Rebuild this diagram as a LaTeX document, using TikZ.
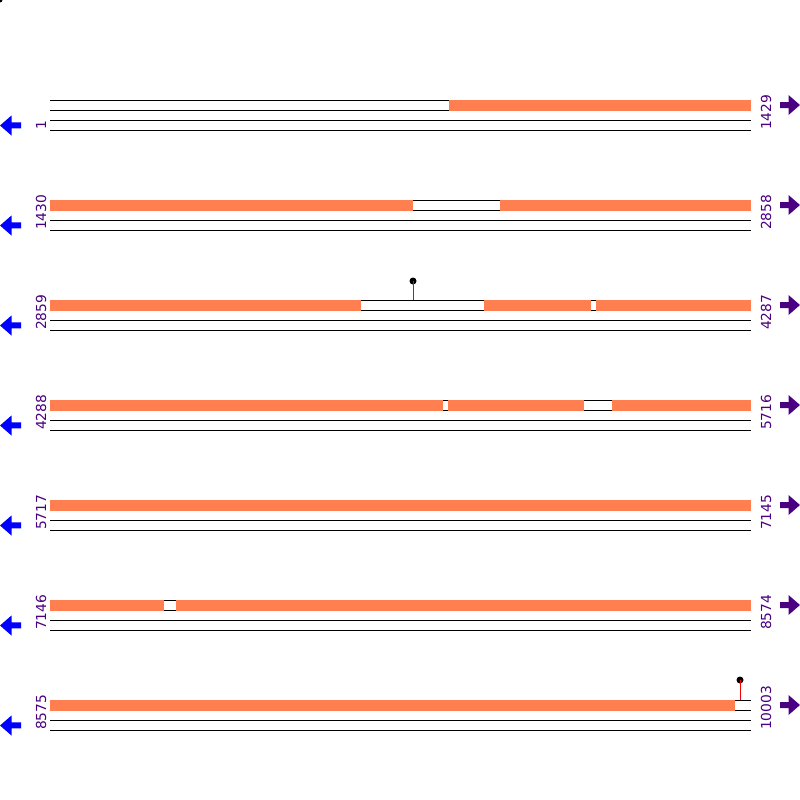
\documentclass[tikz,border=0pt]{standalone}
\usepackage{fontspec}
\setmainfont{DejaVu Sans}
\definecolor{seg}{HTML}{FF7F50}
\definecolor{lbl}{HTML}{4B0082}
\begin{document}
\begin{tikzpicture}[x=1pt,y=-1pt,
  thinline/.style={black,line width=1pt},
  orangeseg/.style={fill=seg,draw=none},
  poslabel/.style={rotate=90,anchor=base west,inner sep=0pt,text=lbl,font=\fontsize{13.8}{14}\selectfont},
  stem/.style={red,line width=1pt},
  knob/.style={circle,fill=black,inner sep=0pt,minimum size=7pt},
  leftarrow/.style={fill=blue,draw=none},
  rightarrow/.style={fill=lbl,draw=none}]
\useasboundingbox (0,0) rectangle (800,800);
\fill[black] (0,0) circle (2.5);
% rows
\foreach \k/\l/\r in {0/1/1429,1/1430/2858,2/2859/4287,3/4288/5716,4/5717/7145,5/7146/8574,6/8575/10003}{
  \pgfmathsetmacro{\yy}{100+100*\k}
  \begin{scope}[yshift=-\yy pt]
    \draw[thinline] (50,0) -- (751,0);
    \draw[thinline] (50,10) -- (751,10);
    \draw[thinline] (50,20) -- (751,20);
    \draw[thinline] (50,30) -- (751,30);
    \node[poslabel] (ll\k) at (46,30) {\l};
    \node[poslabel] (rl\k) at (771,30) {\r};
    \fill[leftarrow] (0,25.5) -- (11.5,15.5) -- (11.5,22.3) -- (21,22.3) -- (21,28.3) -- (11.5,28.3) -- (11.5,35.5) -- cycle;
    \fill[rightarrow] (800,5) -- (788.5,-5) -- (788.5,2) -- (780,2) -- (780,8) -- (788.5,8) -- (788.5,15) -- cycle;
  \end{scope}
}
% orange segments
\foreach \a/\b/\y in {449/751/100,
  50/413/200, 500/751/200,
  50/361/300, 484/591/300, 596/751/300,
  50/443/400, 448/584/400, 612/751/400,
  50/751/500,
  50/164/600, 176/751/600,
  50/735/700}{
  \fill[orangeseg] (\a,\y-0.5) rectangle (\b,\y+10.5);
}
% lollipops
\node[knob] (k1) at (413,281) {};
\draw[stem] (k1.center) -- (413,299.5);
\node[knob] (k2) at (740,680) {};
\draw[stem] (k2.center) -- (740,699.5);
\end{tikzpicture}
\end{document}
